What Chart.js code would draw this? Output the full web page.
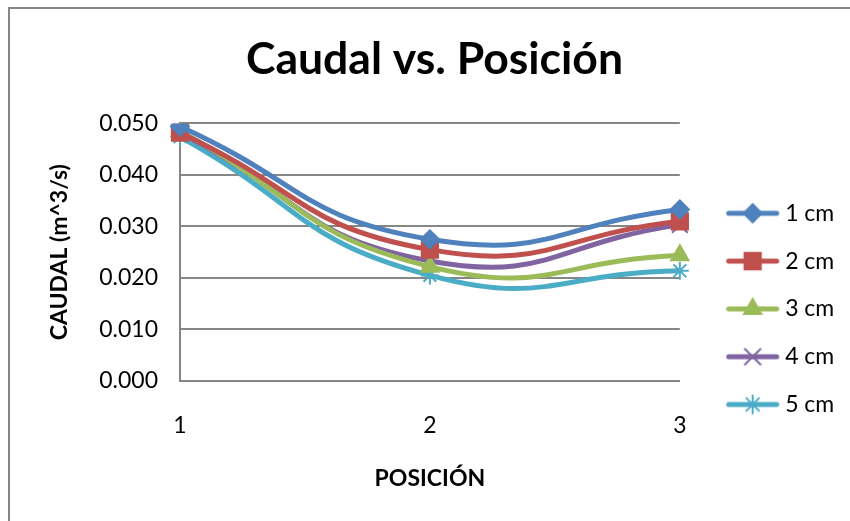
<!DOCTYPE html>
<html>
<head>
<meta charset="utf-8">
<script src="https://cdn.jsdelivr.net/npm/chart.js@4.4.0/dist/chart.umd.min.js"></script>
<style>
  html, body { margin: 0; padding: 0; background: #fff; }
  #wrap { width: 850px; height: 521px; position: relative; }
</style>
</head>
<body>
<div id="wrap"><canvas id="c" width="850" height="521"></canvas></div>
<script>
// ---- data ----
const categories = ['1', '2', '3'];
const seriesNames = ['1 cm', '2 cm', '3 cm', '4 cm', '5 cm'];
const s1cm = [0.0494, 0.0275, 0.0333];
const s2cm = [0.0482, 0.0255, 0.0310];
const s3cm = [0.0485, 0.0222, 0.0244];
const s4cm = [0.0482, 0.0233, 0.0303];
const s5cm = [0.0474, 0.0205, 0.0214];
const yTicks = [0, 0.01, 0.02, 0.03, 0.04, 0.05];

const colors = ['#4F81BD', '#C0504D', '#9BBB59', '#8064A2', '#4BACC6'];
const markers = ['rectRot', 'rect', 'triangle', 'crossRot', 'star'];
const radii = [9, 11.5, 10, 11, 9];
const values = [s1cm, s2cm, s3cm, s4cm, s5cm];
const FONT = 'Lato';

function legendImage(i) {
  const w = 60, h = 26;
  const cv = document.createElement('canvas');
  cv.width = w; cv.height = h;
  const ctx = cv.getContext('2d');
  ctx.strokeStyle = colors[i];
  ctx.lineWidth = 5;
  ctx.lineCap = 'round';
  ctx.beginPath(); ctx.moveTo(6, h / 2); ctx.lineTo(w - 6, h / 2); ctx.stroke();
  ctx.fillStyle = colors[i];
  ctx.lineWidth = 2;
  Chart.helpers.drawPoint(ctx, { pointStyle: markers[i], radius: radii[i], borderWidth: 2, rotation: 0 }, w / 2, h / 2);
  return cv;
}

const datasets = seriesNames.map((name, i) => ({
  label: name,
  data: values[i],
  borderColor: colors[i],
  backgroundColor: colors[i],
  borderWidth: 5,
  tension: 0.5,
  pointStyle: markers[i],
  pointRadius: radii[i],
  pointBorderWidth: 2,
  pointBorderColor: colors[i],
  pointBackgroundColor: colors[i],
  fill: false,
  yAxisID: 'y'
}));

const borderPlugin = {
  id: 'outerBorder',
  beforeDraw(chart) {
    const ctx = chart.ctx;
    ctx.save();
    ctx.fillStyle = '#fff';
    ctx.fillRect(0, 0, chart.width, chart.height);
    ctx.strokeStyle = '#868686';
    ctx.lineWidth = 2;
    ctx.strokeRect(9, 8, 900, 600);
    ctx.restore();
  }
};

new Chart(document.getElementById('c'), {
  type: 'line',
  data: { labels: categories, datasets },
  plugins: [borderPlugin],
  options: {
    responsive: false,
    animation: false,
    devicePixelRatio: 1,
    layout: { padding: { top: 20, left: 26, right: 7, bottom: 29 } },
    plugins: {
      title: {
        display: true,
        text: 'Caudal vs. Posición',
        color: '#000',
        font: { family: FONT, size: 44.5, weight: 'bold' },
        padding: { top: 13, bottom: 37 }
      },
      legend: {
        position: 'right',
        align: 'start',
        title: { display: true, text: ' ', font: { size: 10 }, padding: { top: 145, bottom: 0 } },
        labels: {
          usePointStyle: true,
          pointStyleWidth: 42,
          padding: 24.8,
          color: '#000',
          font: { family: FONT, size: 23 },
          generateLabels(chart) {
            const items = Chart.defaults.plugins.legend.labels.generateLabels(chart);
            items.forEach((it, i) => { it.pointStyle = legendImage(i); });
            return items;
          }
        }
      },
      tooltip: { enabled: false }
    },
    scales: {
      x: {
        type: 'category',
        offset: false,
        afterFit(scale) { scale.height = 111; },
        grid: { display: false, drawTicks: false },
        border: { display: true, color: '#868686', width: 2 },
        ticks: { color: '#000', font: { family: FONT, size: 23 }, padding: 31 },
        title: {
          display: true, text: 'POSICIÓN', color: '#000',
          font: { family: FONT, size: 23, weight: 'bold' },
          padding: { top: 0, bottom: 0 }
        }
      },
      y: {
        min: 0, max: 0.05,
        afterBuildTicks(scale) { scale.ticks = yTicks.map(v => ({ value: v })); },
        afterFit(scale) { scale.width = 154; },
        grid: { color: '#868686', lineWidth: 2, drawTicks: false },
        border: { display: true, color: '#868686', width: 2 },
        ticks: {
          color: '#000', font: { family: FONT, size: 23 }, padding: 22,
          callback: v => Number(v).toFixed(3)
        },
        title: {
          display: true, text: 'CAUDAL (m^3/s)', color: '#000',
          font: { family: FONT, size: 23, weight: 'bold' },
          padding: { top: 20, bottom: 0 }
        }
      },
      y2: {
        position: 'right',
        display: true,
        afterFit(scale) { scale.width = 27; },
        grid: { display: false, drawTicks: false },
        border: { display: false },
        ticks: { display: false }
      }
    }
  }
});
</script>
</body>
</html>
